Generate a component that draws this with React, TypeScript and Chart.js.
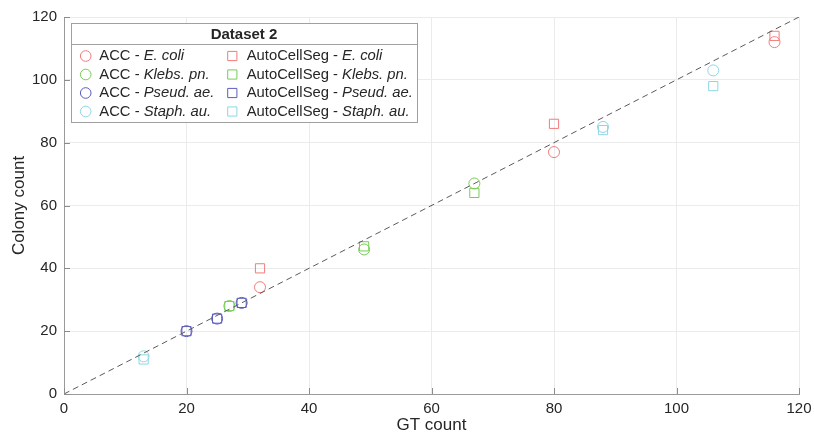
import React, { useEffect, useRef } from "react";
import { Chart, registerables } from "chart.js";

Chart.register(...registerables);

// ---- data ----
const speciesLabels = ["E. coli", "Klebs. pn.", "Pseud. ae.", "Staph. au."];
const methodLabels = ["ACC", "AutoCellSeg"];

const gtEcoli = [32, 80, 116];
const accEcoli = [34, 77, 112];
const acsEcoli = [40, 86, 114];

const gtKlebs = [27, 49, 67];
const accKlebs = [28, 46, 67];
const acsKlebs = [28, 47, 64];

const gtPseud = [20, 25, 29];
const accPseud = [20, 24, 29];
const acsPseud = [20, 24, 29];

const gtStaph = [13, 88, 106];
const accStaph = [12, 85, 103];
const acsStaph = [11, 84, 98];

const axisTicks = [0, 20, 40, 60, 80, 100, 120];
const identityLine = [0, 120];

const legendTitle = "Dataset 2";
const xTitle = "GT count";
const yTitle = "Colony count";

const speciesColors = ["#f27c7c", "#77cc55", "#5c5cbd", "#8ed6e6"];

const FONT = "'Liberation Sans', Arial, Helvetica, sans-serif";
const TEXT = "#262626";

const zip = (xs: number[], ys: number[]) => xs.map((x, i) => ({ x, y: ys[i] }));

const gtAll = [gtEcoli, gtKlebs, gtPseud, gtStaph];
const accAll = [accEcoli, accKlebs, accPseud, accStaph];
const acsAll = [acsEcoli, acsKlebs, acsPseud, acsStaph];

const inwardTicks = {
  id: "inwardTicks",
  afterDatasetsDraw(chart: any) {
    const { ctx, chartArea, scales } = chart;
    ctx.save();
    ctx.strokeStyle = "#8c8c8c";
    ctx.lineWidth = 1;
    ctx.beginPath();
    axisTicks.forEach((v) => {
      const px = Math.round(scales.x.getPixelForValue(v)) + 0.5;
      ctx.moveTo(px, chartArea.bottom);
      ctx.lineTo(px, chartArea.bottom - 6);
      const py = Math.round(scales.y.getPixelForValue(v)) + 0.5;
      ctx.moveTo(chartArea.left, py);
      ctx.lineTo(chartArea.left + 6, py);
    });
    ctx.stroke();
    ctx.restore();
  },
};

const matlabLegend = {
  id: "matlabLegend",
  afterDraw(chart: any) {
    const ctx = chart.ctx;
    const x0 = 71, y0 = 23, w = 346, h = 99;
    ctx.save();
    ctx.fillStyle = "#ffffff";
    ctx.fillRect(x0, y0, w, h);
    ctx.strokeStyle = "#a0a0a0";
    ctx.lineWidth = 1;
    ctx.strokeRect(x0 + 0.5, y0 + 0.5, w, h);
    ctx.beginPath();
    ctx.moveTo(x0, 44.5);
    ctx.lineTo(x0 + w, 44.5);
    ctx.stroke();

    ctx.fillStyle = TEXT;
    ctx.textBaseline = "middle";
    ctx.textAlign = "center";
    ctx.font = `bold 15px ${FONT}`;
    ctx.fillText(legendTitle, x0 + w / 2, 34.5);

    ctx.textAlign = "left";
    const rowY = [56, 74.5, 93, 111.5];
    const colMarkerX = [85.7, 232.3];
    const colTextX = [99.3, 246.7];
    methodLabels.forEach((m, c) => {
      speciesLabels.forEach((s, r) => {
        const y = rowY[r];
        ctx.strokeStyle = speciesColors[r];
        ctx.lineWidth = 1;
        ctx.beginPath();
        if (c === 0) {
          ctx.arc(colMarkerX[c], y, 5.3, 0, Math.PI * 2);
        } else {
          ctx.rect(colMarkerX[c] - 4.6, y - 4.6, 9.2, 9.2);
        }
        ctx.stroke();
        ctx.fillStyle = TEXT;
        ctx.font = `14.8px ${FONT}`;
        const prefix = `${m} - `;
        ctx.fillText(prefix, colTextX[c], y);
        const pw = ctx.measureText(prefix).width;
        ctx.font = `italic 14.8px ${FONT}`;
        ctx.fillText(s, colTextX[c] + pw, y);
      });
    });
    ctx.restore();
  },
};

export default function App() {
  const ref = useRef<HTMLCanvasElement | null>(null);

  useEffect(() => {
    if (!ref.current) return;
    const datasets: any[] = [
      {
        label: "identity",
        data: zip(identityLine, identityLine),
        showLine: true,
        borderColor: "#5a5a5a",
        borderWidth: 1,
        borderDash: [6, 4],
        pointRadius: 0,
        fill: false,
      },
    ];
    speciesLabels.forEach((s, i) => {
      datasets.push({
        label: `ACC - ${s}`,
        data: zip(gtAll[i], accAll[i]),
        pointStyle: "circle",
        pointRadius: 5.5,
        pointBorderWidth: 1,
        borderColor: speciesColors[i],
        backgroundColor: "rgba(0,0,0,0)",
        pointBackgroundColor: "rgba(0,0,0,0)",
      });
      datasets.push({
        label: `AutoCellSeg - ${s}`,
        data: zip(gtAll[i], acsAll[i]),
        pointStyle: "rect",
        pointRadius: 6.5,
        pointBorderWidth: 1,
        borderColor: speciesColors[i],
        backgroundColor: "rgba(0,0,0,0)",
        pointBackgroundColor: "rgba(0,0,0,0)",
      });
    });

    const chart = new Chart(ref.current, {
      type: "scatter",
      data: { datasets },
      options: {
        animation: false,
        responsive: false,
        devicePixelRatio: 1,
        layout: { padding: { top: 17, right: 15, left: 0, bottom: 0 } },
        plugins: { legend: { display: false }, tooltip: { enabled: false } },
        scales: {
          x: {
            type: "linear",
            min: 0,
            max: 120,
            afterFit: (s: any) => { s.height = 46; s.paddingLeft = 0; s.paddingRight = 0; },
            afterBuildTicks: (s: any) => { s.ticks = axisTicks.map((v) => ({ value: v })); },
            ticks: { color: TEXT, font: { family: FONT, size: 15 }, padding: 6, maxRotation: 0 },
            grid: { color: "#ebebeb", drawTicks: false, lineWidth: 1 },
            border: { display: true, color: "#9a9a9a", width: 1 },
            title: {
              display: true,
              text: xTitle,
              color: TEXT,
              font: { family: FONT, size: 17, lineHeight: 1 },
              padding: { top: 0, bottom: 6 },
            },
          },
          y: {
            type: "linear",
            min: 0,
            max: 120,
            afterFit: (s: any) => { s.width = 64; s.paddingTop = 0; s.paddingBottom = 0; },
            afterBuildTicks: (s: any) => { s.ticks = axisTicks.map((v) => ({ value: v })); },
            ticks: { color: TEXT, font: { family: FONT, size: 15 }, padding: 7 },
            grid: { color: "#ebebeb", drawTicks: false, lineWidth: 1 },
            border: { display: true, color: "#9a9a9a", width: 1 },
            title: {
              display: true,
              text: yTitle,
              color: TEXT,
              font: { family: FONT, size: 17, lineHeight: 1 },
              padding: { top: 11, bottom: 0 },
            },
          },
        },
      },
      plugins: [inwardTicks, matlabLegend],
    });
    return () => chart.destroy();
  }, []);

  return (
    <div style={{ position: "fixed", left: 0, top: 0, width: 814, height: 440, background: "#fff" }}>
      <canvas ref={ref} width={814} height={440} style={{ display: "block", width: 814, height: 440 }} />
    </div>
  );
}
